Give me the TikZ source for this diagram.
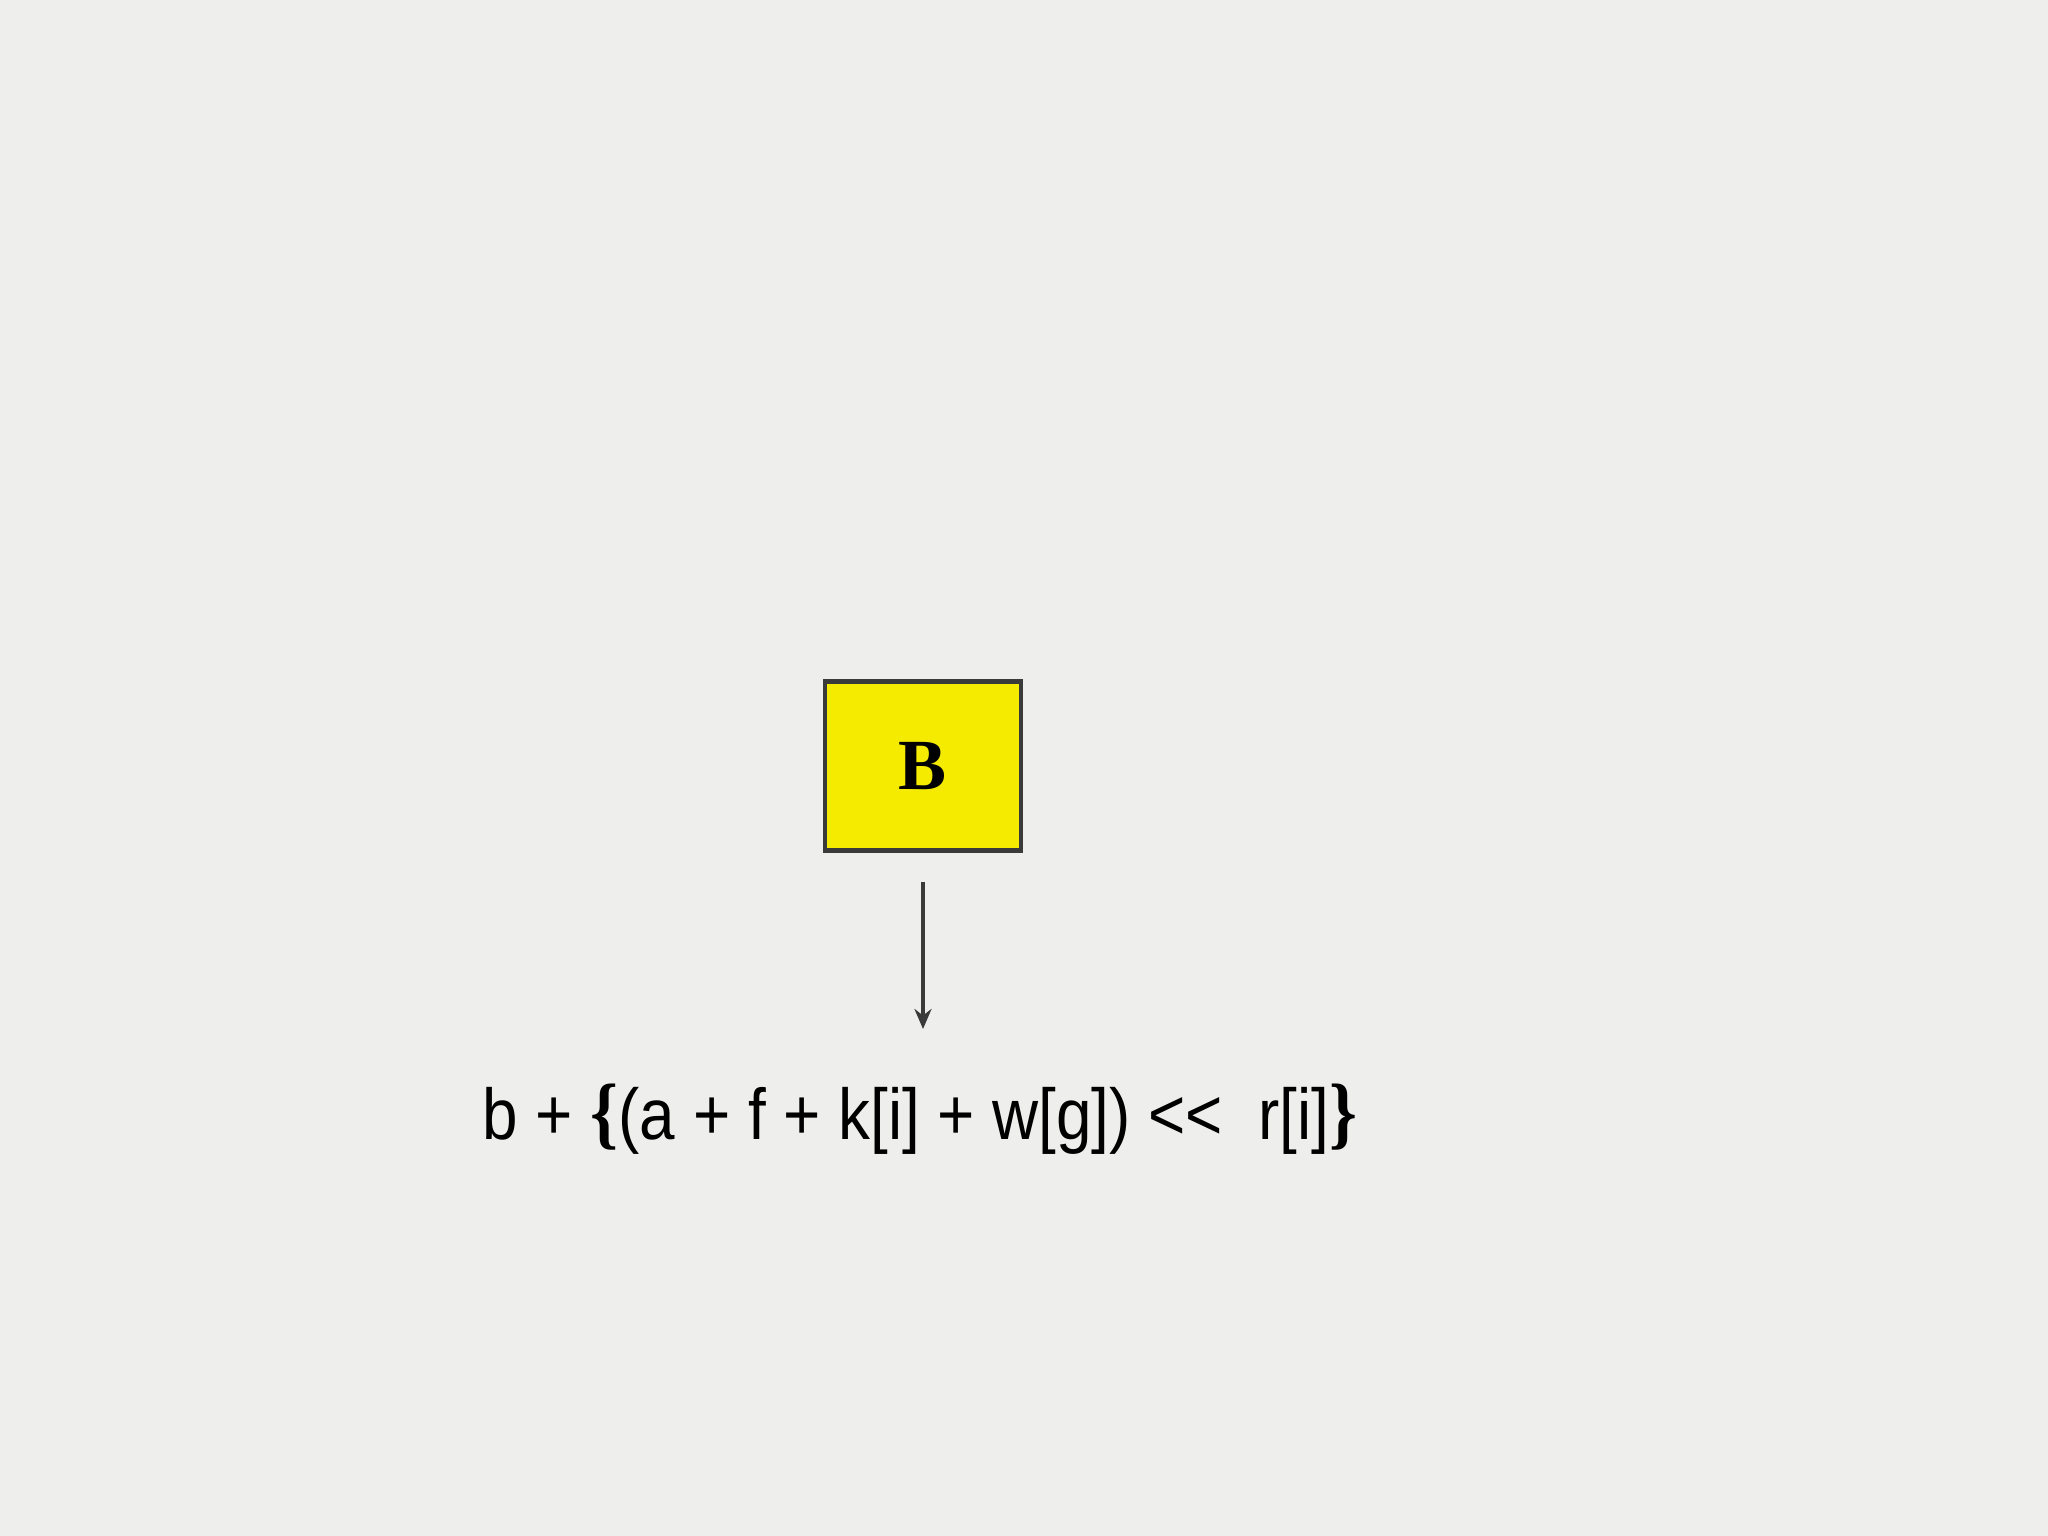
\documentclass[tikz,border=0pt]{standalone}
\usepackage{fontspec}
\usepackage{graphicx}
\setmainfont{Liberation Sans}[Ligatures=TeXOff]
\newfontfamily\serifb{Liberation Serif}[Ligatures=TeXOff]
\usetikzlibrary{arrows.meta}
\definecolor{bg}{HTML}{EEEEEC}
\definecolor{boxyellow}{HTML}{F5EB00}
\definecolor{linegray}{HTML}{3A3A3A}
\tikzset{
  blockbox/.style={draw=linegray, line width=4.5pt, fill=boxyellow, minimum width=196pt, minimum height=169pt, inner sep=0pt},
  flowarrow/.style={draw=linegray, line width=3.5pt, -{Stealth[length=20pt,width=17pt]}},
  formula/.style={anchor=base, inner sep=0pt, text=black}
}
\begin{document}
\begin{tikzpicture}[x=1pt,y=-1pt]
\fill[bg] (0,0) rectangle (2048,1536);
\useasboundingbox (0,0) rectangle (2048,1536);
\node[blockbox] (B) at (923,766) {\serifb\bfseries\fontsize{72}{78}\selectfont B};
\coordinate (top) at (923,882);
\node[formula] (F) at (920,1139) {\resizebox{875pt}{\height}{\fontsize{72}{80}\selectfont b + {\serifb\bfseries\fontsize{80}{80}\selectfont\{}(a + f + k[i] + w[g]) <\kern0pt<\ \ r[i]{\serifb\bfseries\fontsize{80}{80}\selectfont\}}}};
\coordinate (bot) at (923,1029);
\draw[flowarrow] (top) -- (bot);
\end{tikzpicture}
\end{document}
